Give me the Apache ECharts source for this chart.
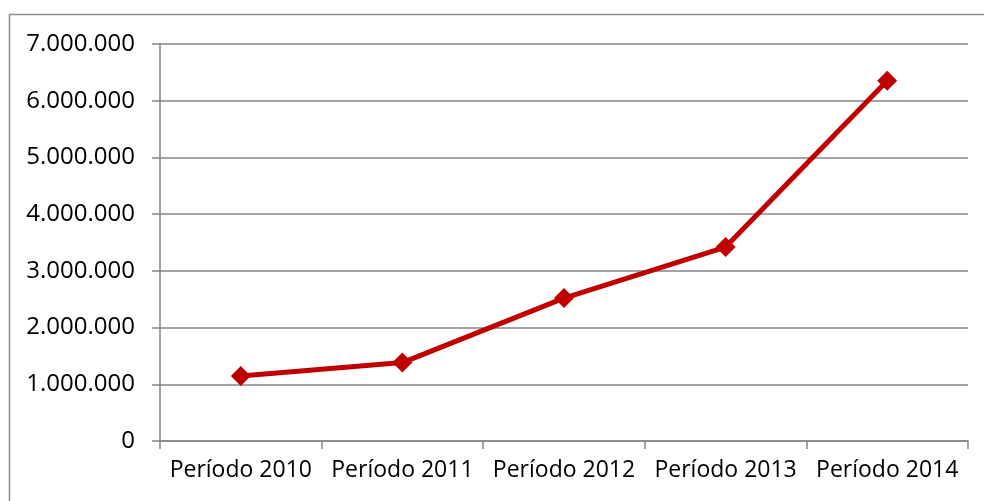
<!DOCTYPE html>
<html>
<head>
<meta charset="utf-8">
<title>Período</title>
<style>
  html, body { margin: 0; padding: 0; background: #fff; }
  #chart { width: 984px; height: 501px; }
</style>
</head>
<body>
<div id="chart"></div>
<script src="https://cdn.jsdelivr.net/npm/echarts@6/dist/echarts.min.js"></script>
<script>
// datos
var categorias = ['Período 2010', 'Período 2011', 'Período 2012', 'Período 2013', 'Período 2014'];
var valores = [1147000, 1383000, 2520000, 3420000, 6350000];
var ejeMin = 0, ejeMax = 7000000, ejePaso = 1000000;

function formatoMiles(v) {
  return String(v).replace(/\B(?=(\d{3})+(?!\d))/g, '.');
}

var myChart = echarts.init(document.getElementById('chart'));
myChart.setOption({
  animation: false,
  backgroundColor: '#fff',
  textStyle: { fontFamily: 'Open Sans' },
  graphic: [{
    type: 'rect',
    silent: true,
    shape: { x: 9.5, y: 14.5, width: 1100, height: 700 },
    style: { fill: 'none', stroke: '#8c8c8c', lineWidth: 1.5 }
  }],
  grid: { left: 160, right: 16, top: 44, bottom: 60 },
  xAxis: {
    type: 'category',
    data: categorias,
    boundaryGap: true,
    axisLine: { lineStyle: { color: '#868686', width: 1.5 } },
    axisTick: { show: true, length: 8, interval: 0, lineStyle: { color: '#868686', width: 1.5 } },
    axisLabel: { color: '#000', fontSize: 23, margin: 18, interval: 0, fontFamily: 'Open Sans' },
    splitLine: { show: false }
  },
  yAxis: {
    type: 'value',
    min: ejeMin,
    max: ejeMax,
    interval: ejePaso,
    axisLine: { show: true, lineStyle: { color: '#868686', width: 1.5 } },
    axisTick: { show: true, length: 8, lineStyle: { color: '#868686', width: 1.5 } },
    axisLabel: { color: '#000', fontSize: 24, margin: 25, fontFamily: 'Open Sans', formatter: formatoMiles },
    splitLine: { show: true, lineStyle: { color: '#868686', width: 1.5 } }
  },
  series: [{
    type: 'line',
    data: valores,
    symbol: 'diamond',
    symbolSize: 20,
    lineStyle: { color: '#c00000', width: 5 },
    itemStyle: { color: '#c00000' }
  }]
});
</script>
</body>
</html>
